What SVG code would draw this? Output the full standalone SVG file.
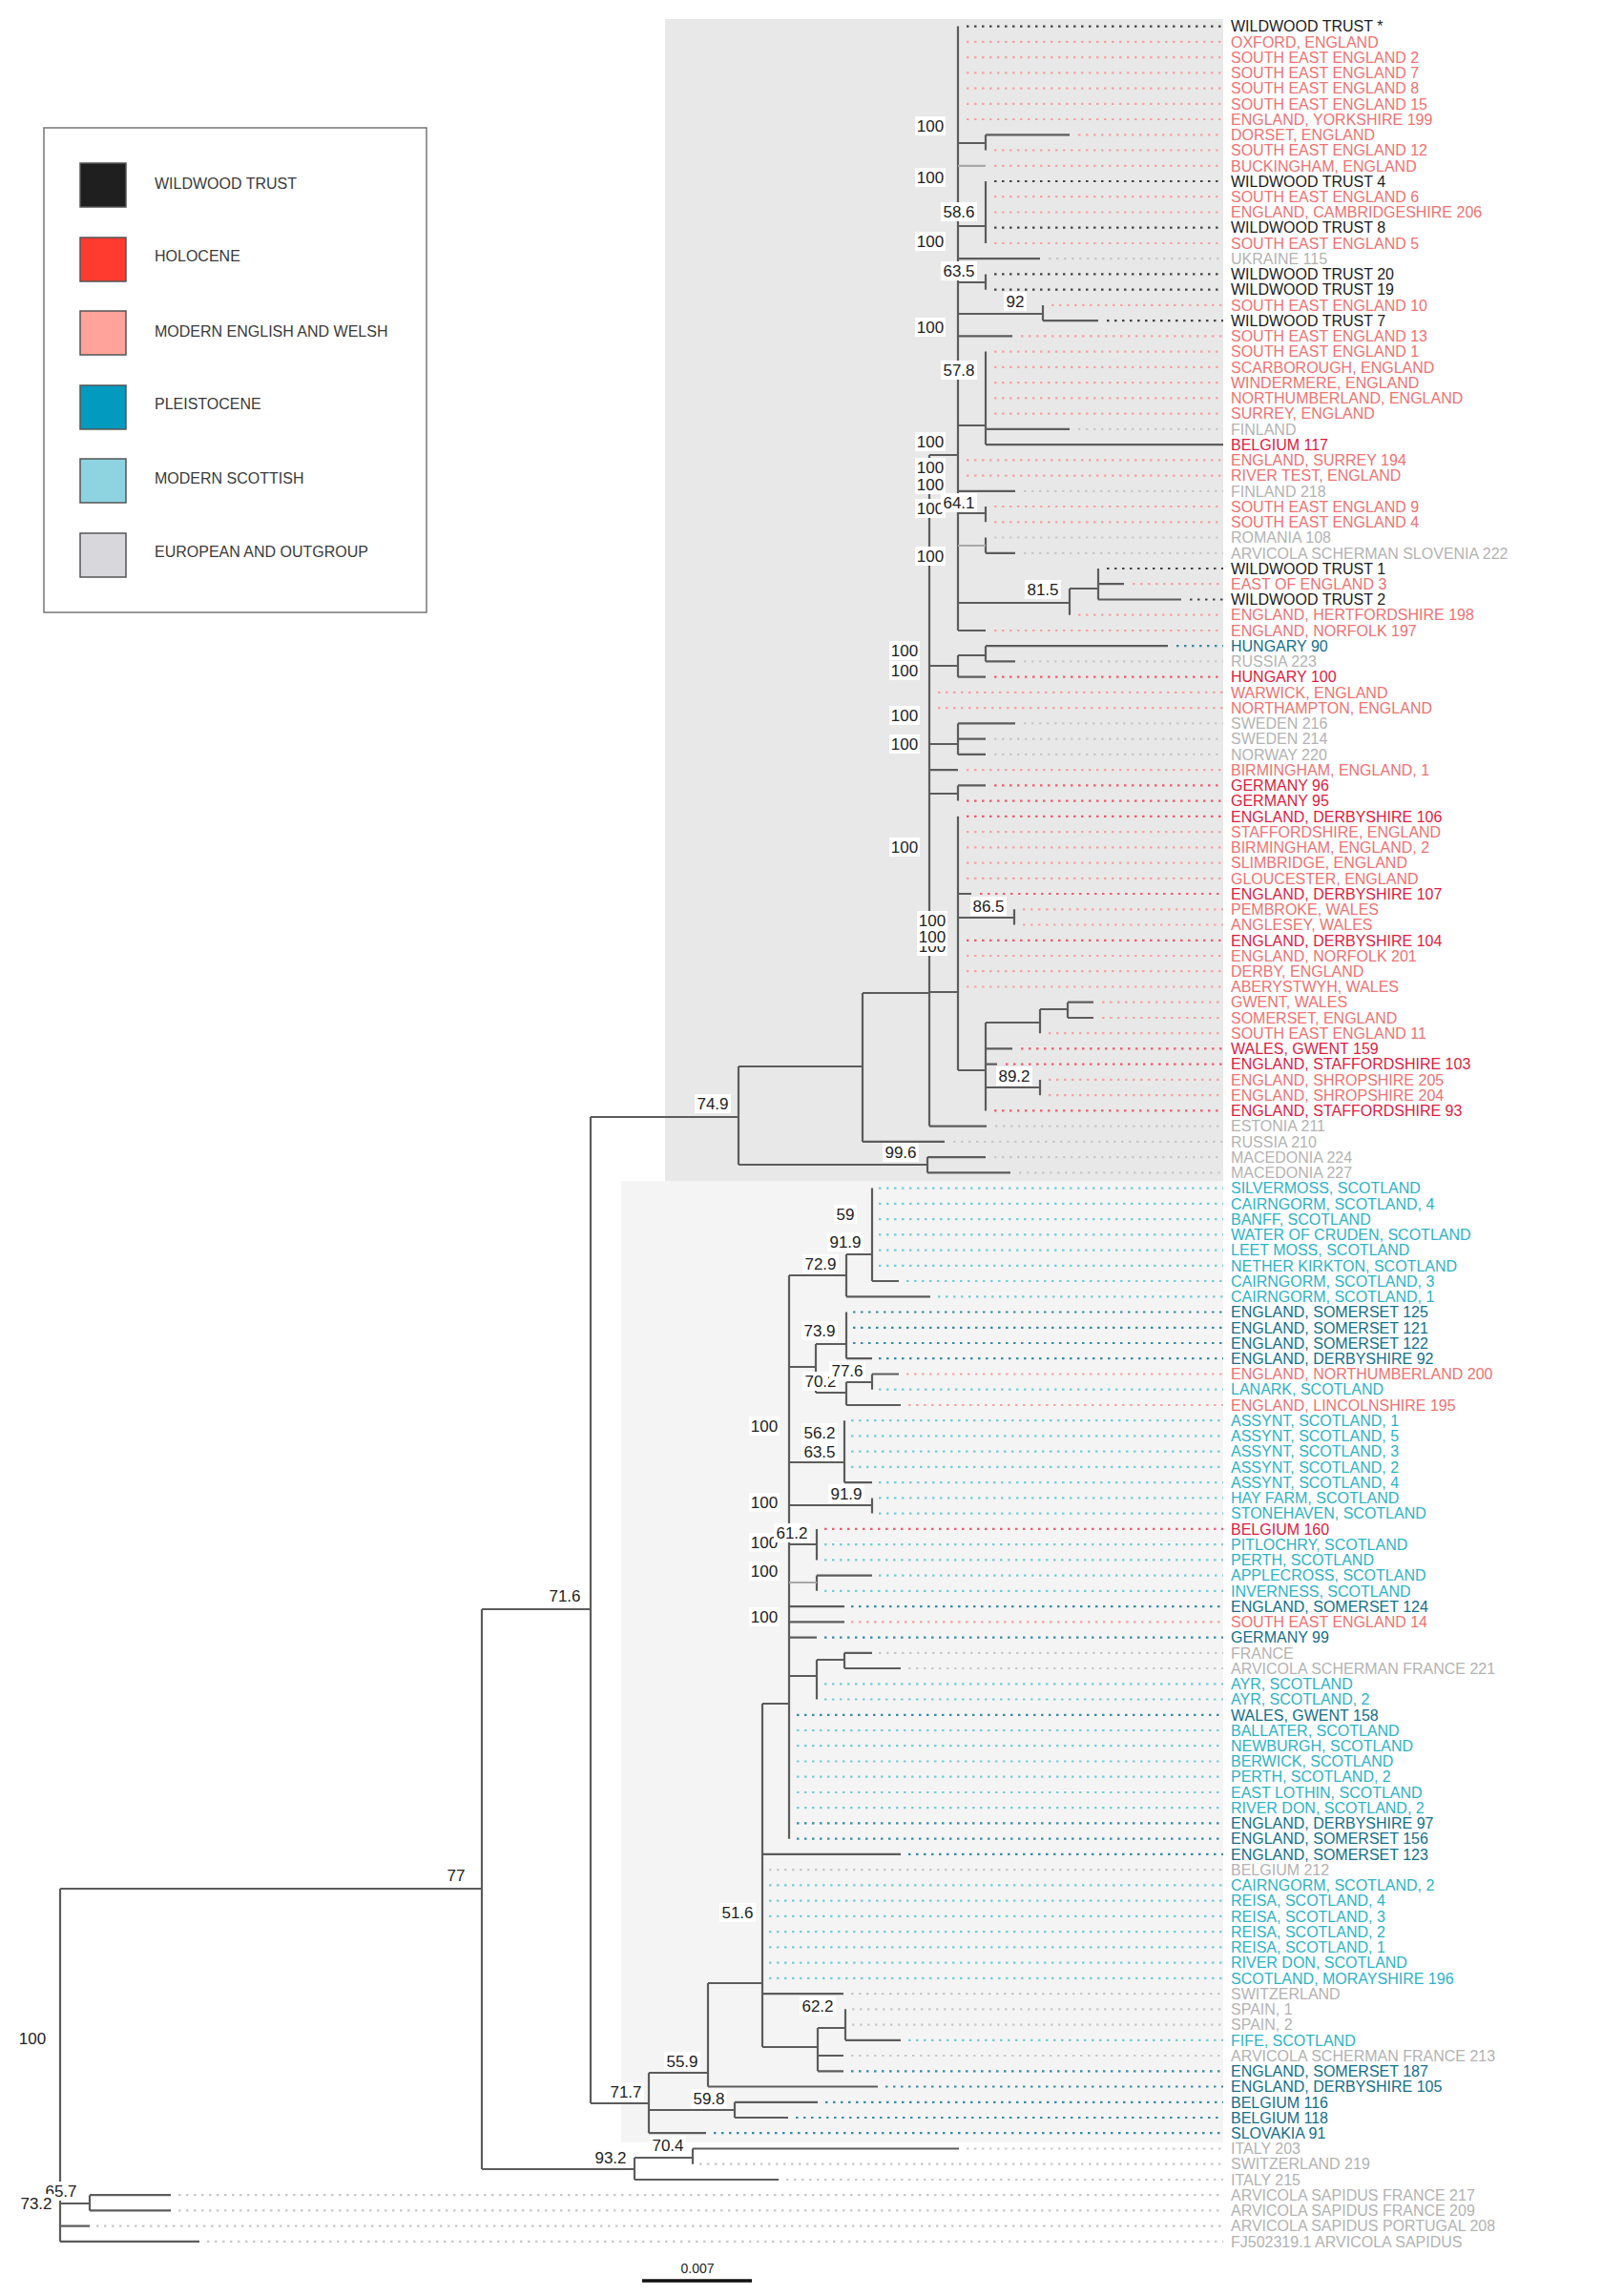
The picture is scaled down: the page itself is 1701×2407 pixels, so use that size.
<svg xmlns="http://www.w3.org/2000/svg" width="1701" height="2407" viewBox="0 0 1701 2407">
<style>
text{font-family:"Liberation Sans",Arial,sans-serif}
.lf{font-size:16px}
.dk{fill:#1c1c1c}.pk{fill:#f07272}.rd{fill:#e01b3f}.pl{fill:#136f8c}.sc{fill:#2db3c7}.gy{fill:#b3b3b3}
.br{fill:none;stroke:#5c5c5c;stroke-width:2.2}
.brl{fill:none;stroke:#a8a8a8;stroke-width:2.2}
.dt{fill:none;stroke-width:2.2;stroke-dasharray:2.5 5.5}
.ddk{stroke:#444}.dpk{stroke:#f5a3a3}.drd{stroke:#ec5d6e}.dpl{stroke:#3a8aa3}.dsc{stroke:#78cbd8}.dgy{stroke:#c9c9c9}
.bs rect{fill:#fff}
.bs text{font-size:17px;fill:#222;text-anchor:middle}
.lg text{font-size:16px;fill:#3a3a3a}
.lg rect.sw{stroke:#555;stroke-width:1.5}
</style>
<rect x="697" y="20" width="585" height="1218" fill="#e8e8e8"/>
<rect x="651" y="1238" width="631" height="1008" fill="#f4f4f4"/>

<g id="legend" class="lg">
<rect x="46" y="134" width="401" height="508" fill="#fff" stroke="#777" stroke-width="1.5"/>
<rect class="sw" x="84" y="171" width="48" height="46" fill="#1f1f1f"/><text x="162" y="198">WILDWOOD TRUST</text>
<rect class="sw" x="84" y="249" width="48" height="46" fill="#ff3b30"/><text x="162" y="274">HOLOCENE</text>
<rect class="sw" x="84" y="326" width="48" height="46" fill="#ffa39b"/><text x="162" y="353">MODERN ENGLISH AND WELSH</text>
<rect class="sw" x="84" y="404" width="48" height="46" fill="#039ac0"/><text x="162" y="429">PLEISTOCENE</text>
<rect class="sw" x="84" y="481" width="48" height="46" fill="#8dd3e0"/><text x="162" y="507">MODERN SCOTTISH</text>
<rect class="sw" x="84" y="559" width="48" height="46" fill="#d8d8dc"/><text x="162" y="584">EUROPEAN AND OUTGROUP</text>
</g>

<g id="connectors">
<path class="br" d="M1004 27.6V661 M974 477H1004
M1033 141.3V157.5 M1004 150H1033 M1033 141.3H1121
M1033 190V255 M1004 237H1033
M1004 271.2H1090
M1033 287.4V303.7 M1004 296H1033
M1093 319.9V336.2 M1004 329H1093 M1093 336.2H1151
M1004 352.4H1061
M1033 368.6V466.1 M1004 446H1033 M1033 449.8H1121 M1033 466.1H1282
M1004 514.8H1064
M1033 531V547.3 M1004 538H1033
M1033 563.5V579.8 M1033 579.8H1064
M1121 617V644.7 M1004 632H1121 M1151 596V628.5 M1121 617H1151 M1151 612.2H1178 M1151 628.5H1238
M1004 661H1033
M974 477V1180.6
M974 698H1004 M1004 687V709.7 M1004 687H1033 M1033 677.2V693.4 M1033 677.2H1224 M1033 693.4H1064 M1004 709.7H1033
M974 780H1004 M1004 758.4V790.9 M1004 758.4H1064 M1004 774.6H1033 M1004 790.9H1033
M974 807.1H1004
M974 832H1004 M1004 823.4V839.6 M1004 823.4H1033
M974 1040H1004 M1004 855.8V1122
M1004 937H1018
M1004 962H1063 M1063 953.3V969.5
M1004 1122H1033 M1033 1072V1164.4
M1033 1072H1090 M1090 1058V1083.2 M1090 1058H1119 M1119 1050.7V1067 M1119 1050.7H1146 M1119 1067H1146
M1033 1099.4H1061
M1033 1115.7H1045
M1033 1140H1090 M1090 1131.9V1148.2
M974 1180.6H1034
M904 1041H974 M904 1041V1196.9 M904 1196.9H990
M774 1118H904 M774 1118V1221 M774 1221H972 M972 1213.1V1229.4 M972 1213.1H1033 M972 1229.4H1059
M619 1171H774 M619 1171V2205
M505 1687H619 M505 1687V2274
M63 1980H505
M619 2205H680 M680 2173V2236.2
M680 2173H742 M742 2079V2187.5 M742 2187.5H920
M742 2079H799 M799 1786V2146
M799 1786H827 M827 1337V1927.7
M827 1337H887 M887 1315V1359.3 M887 1315H914 M914 1245.6V1343 M914 1343H942 M887 1359.3H975
M827 1433H855 M855 1409V1460
M855 1409H887 M887 1375.5V1424.2 M887 1424.2H914
M855 1460H887 M887 1449V1473 M887 1449H914 M914 1440.5V1456.7 M914 1440.5H942 M887 1473H944
M827 1533H885 M885 1489.2V1554.2 M885 1554.2H914
M827 1578H914 M914 1570.4V1586.6
M827 1619H856 M856 1602.9V1635.4
M856 1651.6V1667.8 M856 1651.6H914
M827 1684.1H885
M827 1700.3H885
M827 1716.6H856
M827 1757H856 M856 1740V1781.5 M856 1740H885 M885 1732.8V1749 M885 1732.8H914 M885 1749H944
M799 1943.9H944
M799 2090.1H884
M799 2146H857 M857 2126V2171.3 M857 2126H886 M886 2106.3V2138.8 M886 2138.8H944 M857 2155H884 M857 2171.3H884
M680 2212H770 M770 2203.8V2220 M770 2203.8H857 M770 2220H826
M680 2236.2H740
M505 2274H665 M665 2262V2285 M665 2262H726 M726 2252.5V2268.7 M726 2252.5H1005 M665 2285H816
M63 1980V2349.9
M63 2310H94 M94 2301.2V2317.4 M94 2301.2H179 M94 2317.4H179 M63 2333.7H94 M63 2349.9H209"/>
<path class="brl" d="M1004 173.8H1033 M1004 572H1033 M827 1659H856"/>
<path class="dt ddk" d="M1013 27.6H1282 M1042 190H1282 M1042 238.7H1282 M1042 287.4H1282 M1042 303.7H1282 M1160 336.2H1282 M1160 596H1282 M1247 628.5H1282"/>
<path class="dt dpk" d="M1013 43.8H1282 M1013 60.1H1282 M1013 76.3H1282 M1013 92.6H1282 M1013 108.8H1282 M1013 125H1282 M1130 141.3H1282 M1042 157.5H1282 M1042 173.8H1282 M1042 206.2H1282 M1042 222.5H1282 M1042 255H1282 M1102 319.9H1282 M1070 352.4H1282 M1042 368.6H1282 M1042 384.9H1282 M1042 401.1H1282 M1042 417.4H1282 M1042 433.6H1282 M1013 482.3H1282 M1013 498.6H1282 M1042 531H1282 M1042 547.3H1282 M1187 612.2H1282 M1130 644.7H1282 M1042 661H1282 M983 725.9H1282 M983 742.2H1282 M1013 807.1H1282 M1013 872.1H1282 M1013 888.3H1282 M1013 904.6H1282 M1013 920.8H1282 M1072 953.3H1282 M1072 969.5H1282 M1013 1002H1282 M1013 1018.2H1282 M1013 1034.5H1282 M1155 1050.7H1282 M1155 1067H1282 M1099 1083.2H1282 M1099 1131.9H1282 M1099 1148.2H1282 M950 1440.5H1282 M952 1473H1282 M892 1700.3H1282"/>
<path class="dt drd" d="M1042 709.7H1282 M1042 823.4H1282 M1013 839.6H1282 M1013 855.8H1282 M1027 937H1282 M1013 985.8H1282 M1070 1099.4H1282 M1054 1115.7H1282 M1042 1164.4H1282 M864 1602.9H1282"/>
<path class="dt dgy" d="M1099 271.2H1282 M1130 449.8H1282 M1073 514.8H1282 M1042 563.5H1282 M1073 579.8H1282 M1073 693.4H1282 M1073 758.4H1282 M1042 774.6H1282 M1042 790.9H1282 M1043 1180.6H1282 M999 1196.9H1282 M1042 1213.1H1282 M1068 1229.4H1282 M921 1732.8H1282 M952 1749H1282 M806 1960.2H1282 M892 2090.1H1282 M893 2106.3H1282 M893 2122.6H1282 M892 2155H1282 M1013 2252.5H1282 M733 2268.7H1282 M824 2285H1282 M187 2301.2H1282 M187 2317.4H1282 M101 2333.7H1282 M217 2349.9H1282"/>
<path class="dt dpl" d="M1233 677.2H1282 M894 1375.5H1282 M894 1391.8H1282 M894 1408H1282 M921 1424.2H1282 M892 1684.1H1282 M864 1716.6H1282 M835 1797.8H1282 M835 1911.4H1282 M835 1927.7H1282 M952 1943.9H1282 M892 2171.3H1282 M928 2187.5H1282 M865 2203.8H1282 M834 2220H1282 M748 2236.2H1282"/>
<path class="dt dsc" d="M921 1245.6H1282 M921 1261.8H1282 M921 1278.1H1282 M921 1294.3H1282 M921 1310.6H1282 M921 1326.8H1282 M950 1343H1282 M983 1359.3H1282 M921 1456.7H1282 M892 1489.2H1282 M892 1505.4H1282 M892 1521.7H1282 M892 1537.9H1282 M921 1554.2H1282 M921 1570.4H1282 M921 1586.6H1282 M864 1619.1H1282 M864 1635.4H1282 M921 1651.6H1282 M864 1667.8H1282 M864 1765.3H1282 M864 1781.5H1282 M835 1814H1282 M835 1830.2H1282 M835 1846.5H1282 M835 1862.7H1282 M835 1879H1282 M835 1895.2H1282 M806 1976.4H1282 M806 1992.6H1282 M806 2008.9H1282 M806 2025.1H1282 M806 2041.4H1282 M806 2057.6H1282 M806 2073.8H1282 M952 2138.8H1282"/>
<path d="M673 2391H788" stroke="#111" stroke-width="3.5"/>
</g>

<g id="scale"><text x="731" y="2383" font-size="14" fill="#222" text-anchor="middle">0.007</text></g>

<g id="bootstrap">
<g class="bs"><rect x="959" y="122" width="32" height="20"/><text x="975" y="138">100</text></g>
<g class="bs"><rect x="959" y="176" width="32" height="20"/><text x="975" y="192">100</text></g>
<g class="bs"><rect x="986" y="212" width="38" height="20"/><text x="1005" y="228">58.6</text></g>
<g class="bs"><rect x="959" y="243" width="32" height="20"/><text x="975" y="259">100</text></g>
<g class="bs"><rect x="986" y="274" width="38" height="20"/><text x="1005" y="290">63.5</text></g>
<g class="bs"><rect x="1052" y="306" width="24" height="20"/><text x="1064" y="322">92</text></g>
<g class="bs"><rect x="959" y="333" width="32" height="20"/><text x="975" y="349">100</text></g>
<g class="bs"><rect x="986" y="378" width="38" height="20"/><text x="1005" y="394">57.8</text></g>
<g class="bs"><rect x="959" y="453" width="32" height="20"/><text x="975" y="469">100</text></g>
<g class="bs"><rect x="959" y="480" width="32" height="20"/><text x="975" y="496">100</text></g>
<g class="bs"><rect x="959" y="498" width="32" height="20"/><text x="975" y="514">100</text></g>
<g class="bs"><rect x="959" y="523" width="32" height="20"/><text x="975" y="539">100</text></g>
<g class="bs"><rect x="986" y="517" width="38" height="20"/><text x="1005" y="533">64.1</text></g>
<g class="bs"><rect x="959" y="573" width="32" height="20"/><text x="975" y="589">100</text></g>
<g class="bs"><rect x="1074" y="608" width="38" height="20"/><text x="1093" y="624">81.5</text></g>
<g class="bs"><rect x="932" y="672" width="32" height="20"/><text x="948" y="688">100</text></g>
<g class="bs"><rect x="932" y="693" width="32" height="20"/><text x="948" y="709">100</text></g>
<g class="bs"><rect x="932" y="740" width="32" height="20"/><text x="948" y="756">100</text></g>
<g class="bs"><rect x="932" y="770" width="32" height="20"/><text x="948" y="786">100</text></g>
<g class="bs"><rect x="932" y="878" width="32" height="20"/><text x="948" y="894">100</text></g>
<g class="bs"><rect x="1017" y="940" width="38" height="20"/><text x="1036" y="956">86.5</text></g>
<g class="bs"><rect x="961" y="982" width="32" height="20"/><text x="977" y="998">100</text></g>
<g class="bs"><rect x="961" y="972" width="32" height="20"/><text x="977" y="988">100</text></g>
<g class="bs"><rect x="961" y="955" width="32" height="20"/><text x="977" y="971">100</text></g>
<g class="bs"><rect x="1044" y="1118" width="38" height="20"/><text x="1063" y="1134">89.2</text></g>
<g class="bs"><rect x="728" y="1147" width="38" height="20"/><text x="747" y="1163">74.9</text></g>
<g class="bs"><rect x="925" y="1198" width="38" height="20"/><text x="944" y="1214">99.6</text></g>
<g class="bs"><rect x="874" y="1263" width="24" height="20"/><text x="886" y="1279">59</text></g>
<g class="bs"><rect x="867" y="1292" width="38" height="20"/><text x="886" y="1308">91.9</text></g>
<g class="bs"><rect x="841" y="1315" width="38" height="20"/><text x="860" y="1331">72.9</text></g>
<g class="bs"><rect x="840" y="1385" width="38" height="20"/><text x="859" y="1401">73.9</text></g>
<g class="bs"><rect x="841" y="1438" width="38" height="20"/><text x="860" y="1454">70.2</text></g>
<g class="bs"><rect x="869" y="1427" width="38" height="20"/><text x="888" y="1443">77.6</text></g>
<g class="bs"><rect x="785" y="1485" width="32" height="20"/><text x="801" y="1501">100</text></g>
<g class="bs"><rect x="840" y="1492" width="38" height="20"/><text x="859" y="1508">56.2</text></g>
<g class="bs"><rect x="840" y="1512" width="38" height="20"/><text x="859" y="1528">63.5</text></g>
<g class="bs"><rect x="868" y="1556" width="38" height="20"/><text x="887" y="1572">91.9</text></g>
<g class="bs"><rect x="785" y="1565" width="32" height="20"/><text x="801" y="1581">100</text></g>
<g class="bs"><rect x="785" y="1607" width="32" height="20"/><text x="801" y="1623">100</text></g>
<g class="bs"><rect x="811" y="1597" width="38" height="20"/><text x="830" y="1613">61.2</text></g>
<g class="bs"><rect x="785" y="1637" width="32" height="20"/><text x="801" y="1653">100</text></g>
<g class="bs"><rect x="785" y="1685" width="32" height="20"/><text x="801" y="1701">100</text></g>
<g class="bs"><rect x="573" y="1663" width="38" height="20"/><text x="592" y="1679">71.6</text></g>
<g class="bs"><rect x="754" y="1995" width="38" height="20"/><text x="773" y="2011">51.6</text></g>
<g class="bs"><rect x="838" y="2093" width="38" height="20"/><text x="857" y="2109">62.2</text></g>
<g class="bs"><rect x="696" y="2151" width="38" height="20"/><text x="715" y="2167">55.9</text></g>
<g class="bs"><rect x="637" y="2183" width="38" height="20"/><text x="656" y="2199">71.7</text></g>
<g class="bs"><rect x="724" y="2190" width="38" height="20"/><text x="743" y="2206">59.8</text></g>
<g class="bs"><rect x="681" y="2239" width="38" height="20"/><text x="700" y="2255">70.4</text></g>
<g class="bs"><rect x="621" y="2252" width="38" height="20"/><text x="640" y="2268">93.2</text></g>
<g class="bs"><rect x="466" y="1956" width="24" height="20"/><text x="478" y="1972">77</text></g>
<g class="bs"><rect x="18" y="2127" width="32" height="20"/><text x="34" y="2143">100</text></g>
<g class="bs"><rect x="45" y="2287" width="38" height="20"/><text x="64" y="2303">65.7</text></g>
<g class="bs"><rect x="19" y="2300" width="38" height="20"/><text x="38" y="2316">73.2</text></g>
</g>

<g id="leaves" class="lf">
<text id="n1" class="dk" x="1290" y="33.3">WILDWOOD TRUST *</text>
<text id="n2" class="pk" x="1290" y="49.5">OXFORD, ENGLAND</text>
<text id="n3" class="pk" x="1290" y="65.8">SOUTH EAST ENGLAND 2</text>
<text id="n4" class="pk" x="1290" y="82">SOUTH EAST ENGLAND 7</text>
<text id="n5" class="pk" x="1290" y="98.3">SOUTH EAST ENGLAND 8</text>
<text id="n6" class="pk" x="1290" y="114.5">SOUTH EAST ENGLAND 15</text>
<text id="n7" class="pk" x="1290" y="130.7">ENGLAND, YORKSHIRE 199</text>
<text id="n8" class="pk" x="1290" y="147">DORSET, ENGLAND</text>
<text id="n9" class="pk" x="1290" y="163.2">SOUTH EAST ENGLAND 12</text>
<text id="n10" class="pk" x="1290" y="179.5">BUCKINGHAM, ENGLAND</text>
<text id="n11" class="dk" x="1290" y="195.7">WILDWOOD TRUST 4</text>
<text id="n12" class="pk" x="1290" y="211.9">SOUTH EAST ENGLAND 6</text>
<text id="n13" class="pk" x="1290" y="228.2">ENGLAND, CAMBRIDGESHIRE 206</text>
<text id="n14" class="dk" x="1290" y="244.4">WILDWOOD TRUST 8</text>
<text id="n15" class="pk" x="1290" y="260.7">SOUTH EAST ENGLAND 5</text>
<text id="n16" class="gy" x="1290" y="276.9">UKRAINE 115</text>
<text id="n17" class="dk" x="1290" y="293.1">WILDWOOD TRUST 20</text>
<text id="n18" class="dk" x="1290" y="309.4">WILDWOOD TRUST 19</text>
<text id="n19" class="pk" x="1290" y="325.6">SOUTH EAST ENGLAND 10</text>
<text id="n20" class="dk" x="1290" y="341.9">WILDWOOD TRUST 7</text>
<text id="n21" class="pk" x="1290" y="358.1">SOUTH EAST ENGLAND 13</text>
<text id="n22" class="pk" x="1290" y="374.3">SOUTH EAST ENGLAND 1</text>
<text id="n23" class="pk" x="1290" y="390.6">SCARBOROUGH, ENGLAND</text>
<text id="n24" class="pk" x="1290" y="406.8">WINDERMERE, ENGLAND</text>
<text id="n25" class="pk" x="1290" y="423.1">NORTHUMBERLAND, ENGLAND</text>
<text id="n26" class="pk" x="1290" y="439.3">SURREY, ENGLAND</text>
<text id="n27" class="gy" x="1290" y="455.5">FINLAND</text>
<text id="n28" class="rd" x="1290" y="471.8">BELGIUM 117</text>
<text id="n29" class="pk" x="1290" y="488">ENGLAND, SURREY 194</text>
<text id="n30" class="pk" x="1290" y="504.3">RIVER TEST, ENGLAND</text>
<text id="n31" class="gy" x="1290" y="520.5">FINLAND 218</text>
<text id="n32" class="pk" x="1290" y="536.7">SOUTH EAST ENGLAND 9</text>
<text id="n33" class="pk" x="1290" y="553">SOUTH EAST ENGLAND 4</text>
<text id="n34" class="gy" x="1290" y="569.2">ROMANIA 108</text>
<text id="n35" class="gy" x="1290" y="585.5">ARVICOLA SCHERMAN SLOVENIA 222</text>
<text id="n36" class="dk" x="1290" y="601.7">WILDWOOD TRUST 1</text>
<text id="n37" class="pk" x="1290" y="617.9">EAST OF ENGLAND 3</text>
<text id="n38" class="dk" x="1290" y="634.2">WILDWOOD TRUST 2</text>
<text id="n39" class="pk" x="1290" y="650.4">ENGLAND, HERTFORDSHIRE 198</text>
<text id="n40" class="pk" x="1290" y="666.7">ENGLAND, NORFOLK 197</text>
<text id="n41" class="pl" x="1290" y="682.9">HUNGARY 90</text>
<text id="n42" class="gy" x="1290" y="699.1">RUSSIA 223</text>
<text id="n43" class="rd" x="1290" y="715.4">HUNGARY 100</text>
<text id="n44" class="pk" x="1290" y="731.6">WARWICK, ENGLAND</text>
<text id="n45" class="pk" x="1290" y="747.9">NORTHAMPTON, ENGLAND</text>
<text id="n46" class="gy" x="1290" y="764.1">SWEDEN 216</text>
<text id="n47" class="gy" x="1290" y="780.3">SWEDEN 214</text>
<text id="n48" class="gy" x="1290" y="796.6">NORWAY 220</text>
<text id="n49" class="pk" x="1290" y="812.8">BIRMINGHAM, ENGLAND, 1</text>
<text id="n50" class="rd" x="1290" y="829.1">GERMANY 96</text>
<text id="n51" class="rd" x="1290" y="845.3">GERMANY 95</text>
<text id="n52" class="rd" x="1290" y="861.5">ENGLAND, DERBYSHIRE 106</text>
<text id="n53" class="pk" x="1290" y="877.8">STAFFORDSHIRE, ENGLAND</text>
<text id="n54" class="pk" x="1290" y="894">BIRMINGHAM, ENGLAND, 2</text>
<text id="n55" class="pk" x="1290" y="910.3">SLIMBRIDGE, ENGLAND</text>
<text id="n56" class="pk" x="1290" y="926.5">GLOUCESTER, ENGLAND</text>
<text id="n57" class="rd" x="1290" y="942.7">ENGLAND, DERBYSHIRE 107</text>
<text id="n58" class="pk" x="1290" y="959">PEMBROKE, WALES</text>
<text id="n59" class="pk" x="1290" y="975.2">ANGLESEY, WALES</text>
<text id="n60" class="rd" x="1290" y="991.5">ENGLAND, DERBYSHIRE 104</text>
<text id="n61" class="pk" x="1290" y="1007.7">ENGLAND, NORFOLK 201</text>
<text id="n62" class="pk" x="1290" y="1023.9">DERBY, ENGLAND</text>
<text id="n63" class="pk" x="1290" y="1040.2">ABERYSTWYH, WALES</text>
<text id="n64" class="pk" x="1290" y="1056.4">GWENT, WALES</text>
<text id="n65" class="pk" x="1290" y="1072.7">SOMERSET, ENGLAND</text>
<text id="n66" class="pk" x="1290" y="1088.9">SOUTH EAST ENGLAND 11</text>
<text id="n67" class="rd" x="1290" y="1105.1">WALES, GWENT 159</text>
<text id="n68" class="rd" x="1290" y="1121.4">ENGLAND, STAFFORDSHIRE 103</text>
<text id="n69" class="pk" x="1290" y="1137.6">ENGLAND, SHROPSHIRE 205</text>
<text id="n70" class="pk" x="1290" y="1153.9">ENGLAND, SHROPSHIRE 204</text>
<text id="n71" class="rd" x="1290" y="1170.1">ENGLAND, STAFFORDSHIRE 93</text>
<text id="n72" class="gy" x="1290" y="1186.3">ESTONIA 211</text>
<text id="n73" class="gy" x="1290" y="1202.6">RUSSIA 210</text>
<text id="n74" class="gy" x="1290" y="1218.8">MACEDONIA 224</text>
<text id="n75" class="gy" x="1290" y="1235.1">MACEDONIA 227</text>
<text id="n76" class="sc" x="1290" y="1251.3">SILVERMOSS, SCOTLAND</text>
<text id="n77" class="sc" x="1290" y="1267.5">CAIRNGORM, SCOTLAND, 4</text>
<text id="n78" class="sc" x="1290" y="1283.8">BANFF, SCOTLAND</text>
<text id="n79" class="sc" x="1290" y="1300">WATER OF CRUDEN, SCOTLAND</text>
<text id="n80" class="sc" x="1290" y="1316.3">LEET MOSS, SCOTLAND</text>
<text id="n81" class="sc" x="1290" y="1332.5">NETHER KIRKTON, SCOTLAND</text>
<text id="n82" class="sc" x="1290" y="1348.7">CAIRNGORM, SCOTLAND, 3</text>
<text id="n83" class="sc" x="1290" y="1365">CAIRNGORM, SCOTLAND, 1</text>
<text id="n84" class="pl" x="1290" y="1381.2">ENGLAND, SOMERSET 125</text>
<text id="n85" class="pl" x="1290" y="1397.5">ENGLAND, SOMERSET 121</text>
<text id="n86" class="pl" x="1290" y="1413.7">ENGLAND, SOMERSET 122</text>
<text id="n87" class="pl" x="1290" y="1429.9">ENGLAND, DERBYSHIRE 92</text>
<text id="n88" class="pk" x="1290" y="1446.2">ENGLAND, NORTHUMBERLAND 200</text>
<text id="n89" class="sc" x="1290" y="1462.4">LANARK, SCOTLAND</text>
<text id="n90" class="pk" x="1290" y="1478.7">ENGLAND, LINCOLNSHIRE 195</text>
<text id="n91" class="sc" x="1290" y="1494.9">ASSYNT, SCOTLAND, 1</text>
<text id="n92" class="sc" x="1290" y="1511.1">ASSYNT, SCOTLAND, 5</text>
<text id="n93" class="sc" x="1290" y="1527.4">ASSYNT, SCOTLAND, 3</text>
<text id="n94" class="sc" x="1290" y="1543.6">ASSYNT, SCOTLAND, 2</text>
<text id="n95" class="sc" x="1290" y="1559.9">ASSYNT, SCOTLAND, 4</text>
<text id="n96" class="sc" x="1290" y="1576.1">HAY FARM, SCOTLAND</text>
<text id="n97" class="sc" x="1290" y="1592.3">STONEHAVEN, SCOTLAND</text>
<text id="n98" class="rd" x="1290" y="1608.6">BELGIUM 160</text>
<text id="n99" class="sc" x="1290" y="1624.8">PITLOCHRY, SCOTLAND</text>
<text id="n100" class="sc" x="1290" y="1641.1">PERTH, SCOTLAND</text>
<text id="n101" class="sc" x="1290" y="1657.3">APPLECROSS, SCOTLAND</text>
<text id="n102" class="sc" x="1290" y="1673.5">INVERNESS, SCOTLAND</text>
<text id="n103" class="pl" x="1290" y="1689.8">ENGLAND, SOMERSET 124</text>
<text id="n104" class="pk" x="1290" y="1706">SOUTH EAST ENGLAND 14</text>
<text id="n105" class="pl" x="1290" y="1722.3">GERMANY 99</text>
<text id="n106" class="gy" x="1290" y="1738.5">FRANCE</text>
<text id="n107" class="gy" x="1290" y="1754.7">ARVICOLA SCHERMAN FRANCE 221</text>
<text id="n108" class="sc" x="1290" y="1771">AYR, SCOTLAND</text>
<text id="n109" class="sc" x="1290" y="1787.2">AYR, SCOTLAND, 2</text>
<text id="n110" class="pl" x="1290" y="1803.5">WALES, GWENT 158</text>
<text id="n111" class="sc" x="1290" y="1819.7">BALLATER, SCOTLAND</text>
<text id="n112" class="sc" x="1290" y="1835.9">NEWBURGH, SCOTLAND</text>
<text id="n113" class="sc" x="1290" y="1852.2">BERWICK, SCOTLAND</text>
<text id="n114" class="sc" x="1290" y="1868.4">PERTH, SCOTLAND, 2</text>
<text id="n115" class="sc" x="1290" y="1884.7">EAST LOTHIN, SCOTLAND</text>
<text id="n116" class="sc" x="1290" y="1900.9">RIVER DON, SCOTLAND, 2</text>
<text id="n117" class="pl" x="1290" y="1917.1">ENGLAND, DERBYSHIRE 97</text>
<text id="n118" class="pl" x="1290" y="1933.4">ENGLAND, SOMERSET 156</text>
<text id="n119" class="pl" x="1290" y="1949.6">ENGLAND, SOMERSET 123</text>
<text id="n120" class="gy" x="1290" y="1965.9">BELGIUM 212</text>
<text id="n121" class="sc" x="1290" y="1982.1">CAIRNGORM, SCOTLAND, 2</text>
<text id="n122" class="sc" x="1290" y="1998.3">REISA, SCOTLAND, 4</text>
<text id="n123" class="sc" x="1290" y="2014.6">REISA, SCOTLAND, 3</text>
<text id="n124" class="sc" x="1290" y="2030.8">REISA, SCOTLAND, 2</text>
<text id="n125" class="sc" x="1290" y="2047.1">REISA, SCOTLAND, 1</text>
<text id="n126" class="sc" x="1290" y="2063.3">RIVER DON, SCOTLAND</text>
<text id="n127" class="sc" x="1290" y="2079.5">SCOTLAND, MORAYSHIRE 196</text>
<text id="n128" class="gy" x="1290" y="2095.8">SWITZERLAND</text>
<text id="n129" class="gy" x="1290" y="2112">SPAIN, 1</text>
<text id="n130" class="gy" x="1290" y="2128.3">SPAIN, 2</text>
<text id="n131" class="sc" x="1290" y="2144.5">FIFE, SCOTLAND</text>
<text id="n132" class="gy" x="1290" y="2160.7">ARVICOLA SCHERMAN FRANCE 213</text>
<text id="n133" class="pl" x="1290" y="2177">ENGLAND, SOMERSET 187</text>
<text id="n134" class="pl" x="1290" y="2193.2">ENGLAND, DERBYSHIRE 105</text>
<text id="n135" class="pl" x="1290" y="2209.5">BELGIUM 116</text>
<text id="n136" class="pl" x="1290" y="2225.7">BELGIUM 118</text>
<text id="n137" class="pl" x="1290" y="2241.9">SLOVAKIA 91</text>
<text id="n138" class="gy" x="1290" y="2258.2">ITALY 203</text>
<text id="n139" class="gy" x="1290" y="2274.4">SWITZERLAND 219</text>
<text id="n140" class="gy" x="1290" y="2290.7">ITALY 215</text>
<text id="n141" class="gy" x="1290" y="2306.9">ARVICOLA SAPIDUS FRANCE 217</text>
<text id="n142" class="gy" x="1290" y="2323.1">ARVICOLA SAPIDUS FRANCE 209</text>
<text id="n143" class="gy" x="1290" y="2339.4">ARVICOLA SAPIDUS PORTUGAL 208</text>
<text id="n144" class="gy" x="1290" y="2355.6">FJ502319.1 ARVICOLA SAPIDUS</text>
</g>
</svg>
